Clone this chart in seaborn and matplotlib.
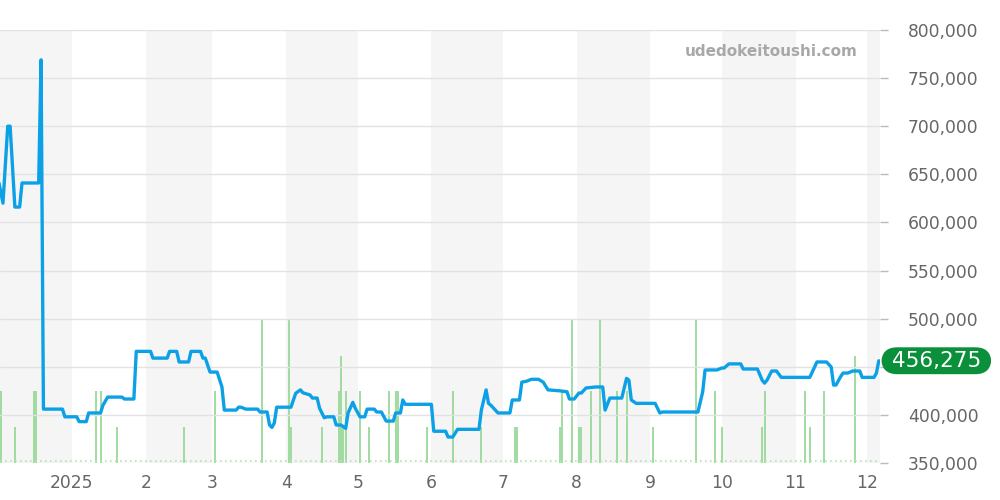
import matplotlib
matplotlib.use("Agg")
import matplotlib.pyplot as plt
import seaborn as sns
import pandas as pd
import numpy as np

# ---- data ----
price_dates = [
    "2024-12-01", "2024-12-03", "2024-12-05", "2024-12-06", "2024-12-08", "2024-12-10",
    "2024-12-11", "2024-12-18", "2024-12-19", "2024-12-20", "2024-12-28", "2024-12-29",
    "2025-01-03", "2025-01-04", "2025-01-07", "2025-01-08", "2025-01-13", "2025-01-14",
    "2025-01-16", "2025-01-22", "2025-01-23", "2025-01-27", "2025-01-28", "2025-02-03",
    "2025-02-04", "2025-02-10", "2025-02-11", "2025-02-14", "2025-02-15", "2025-02-19",
    "2025-02-20", "2025-02-24", "2025-02-25", "2025-02-26", "2025-02-28", "2025-03-03",
    "2025-03-05", "2025-03-06", "2025-03-11", "2025-03-12", "2025-03-13", "2025-03-15",
    "2025-03-20", "2025-03-21", "2025-03-24", "2025-03-25", "2025-03-26", "2025-03-27",
    "2025-03-28", "2025-04-03", "2025-04-05", "2025-04-07", "2025-04-08", "2025-04-11",
    "2025-04-12", "2025-04-14", "2025-04-15", "2025-04-17", "2025-04-18", "2025-04-21",
    "2025-04-22", "2025-04-24", "2025-04-26", "2025-04-27", "2025-04-29", "2025-04-30",
    "2025-05-02", "2025-05-04", "2025-05-05", "2025-05-08", "2025-05-09", "2025-05-11",
    "2025-05-13", "2025-05-16", "2025-05-17", "2025-05-19", "2025-05-20", "2025-05-21",
    "2025-06-01", "2025-06-02", "2025-06-07", "2025-06-08", "2025-06-10", "2025-06-12",
    "2025-06-21", "2025-06-22", "2025-06-24", "2025-06-25", "2025-06-26", "2025-06-29",
    "2025-07-04", "2025-07-05", "2025-07-08", "2025-07-09", "2025-07-11", "2025-07-13",
    "2025-07-16", "2025-07-18", "2025-07-20", "2025-07-25", "2025-07-28", "2025-07-29",
    "2025-07-31", "2025-08-02", "2025-08-03", "2025-08-05", "2025-08-09", "2025-08-12",
    "2025-08-13", "2025-08-15", "2025-08-20", "2025-08-22", "2025-08-23", "2025-08-24",
    "2025-08-26", "2025-09-03", "2025-09-05", "2025-09-06", "2025-09-21", "2025-09-23",
    "2025-09-24", "2025-09-29", "2025-10-01", "2025-10-02", "2025-10-04", "2025-10-09",
    "2025-10-10", "2025-10-16", "2025-10-18", "2025-10-19", "2025-10-20", "2025-10-22",
    "2025-10-24", "2025-10-26", "2025-11-07", "2025-11-09", "2025-11-10", "2025-11-14",
    "2025-11-16", "2025-11-17", "2025-11-18", "2025-11-20", "2025-11-21", "2025-11-23",
    "2025-11-25", "2025-11-28", "2025-11-29", "2025-12-04", "2025-12-05", "2025-12-06",
]
price_values = [
    645000, 620000, 700000, 700000, 616000, 616000,
    641000, 641000, 769000, 406000, 406000, 398000,
    398000, 393000, 393000, 402000, 402000, 410000,
    418500, 418500, 416500, 416500, 466000, 466000,
    459000, 459000, 466000, 466000, 455000, 455000,
    466000, 466000, 459000, 459000, 444500, 444500,
    429000, 405000, 405000, 408000, 408000, 406000,
    406000, 403000, 403000, 389500, 387000, 391500,
    408000, 408000, 422500, 426000, 423000, 420700,
    417500, 417500, 407000, 397000, 398000, 398000,
    389500, 389500, 386000, 402000, 413000, 407000,
    398000, 398000, 406000, 406000, 403000, 403000,
    393600, 393600, 402000, 402000, 415500, 411000,
    411000, 383000, 383000, 377000, 377000, 385000,
    385000, 405000, 426000, 412000, 410000, 402000,
    402000, 415500, 415500, 434000, 435000, 437000,
    437000, 434000, 426000, 425000, 424000, 416500,
    416500, 422700, 422700, 428000, 429000, 429000,
    405000, 417500, 417500, 438000, 436000, 415500,
    412000, 412000, 402000, 403000, 403000, 424000,
    446700, 446700, 448700, 448700, 453000, 453000,
    447700, 447700, 436000, 433000, 436000, 445600,
    445600, 439000, 439000, 449800, 455000, 455000,
    449800, 431000, 431000, 440000, 443500, 443500,
    445600, 445600, 439000, 439000, 443500, 456275,
]

volume_dates = [
    "2024-12-02", "2024-12-08", "2024-12-16", "2024-12-17", "2025-01-11", "2025-01-13",
    "2025-01-20", "2025-02-17", "2025-03-02", "2025-03-22", "2025-04-02", "2025-04-03",
    "2025-04-16", "2025-04-23", "2025-04-24", "2025-04-25", "2025-04-26", "2025-05-02",
    "2025-05-06", "2025-05-14", "2025-05-17", "2025-05-18", "2025-05-30", "2025-06-10",
    "2025-06-22", "2025-07-06", "2025-07-07", "2025-07-25", "2025-07-26", "2025-07-30",
    "2025-08-02", "2025-08-03", "2025-08-07", "2025-08-11", "2025-08-18", "2025-08-22",
    "2025-09-02", "2025-09-20", "2025-09-28", "2025-10-01", "2025-10-18", "2025-10-19",
    "2025-11-05", "2025-11-07", "2025-11-13", "2025-11-26",
]
volume_counts = [
    2, 1, 2, 2, 2, 2,
    1, 1, 2, 4, 4, 1,
    1, 2, 3, 1, 2, 2,
    1, 2, 2, 2, 1, 2,
    1, 1, 1, 1, 2, 4,
    1, 1, 2, 4, 2, 2,
    1, 4, 2, 1, 1, 2,
    2, 1, 2, 3,
]

tick_labels = ["2025", "2", "3", "4", "5", "6", "7", "8", "9", "10", "11", "12"]
y_ticks = [350000, 400000, 450000, 500000, 550000, 600000, 650000, 700000, 750000, 800000]
y_tick_labels = ["350,000", "400,000", "", "500,000", "550,000", "600,000",
                 "650,000", "700,000", "750,000", "800,000"]
last_price = 456275
watermark = "udedokeitoushi.com"

# ---- figure ----
sns.set_style("white")
plt.rcParams["font.family"] = ["DejaVu Sans"]

price_df = pd.DataFrame({"date": pd.to_datetime(price_dates), "price": price_values})
vol_df = pd.DataFrame({"date": pd.to_datetime(volume_dates), "count": volume_counts})

fig = plt.figure(figsize=(10, 5), dpi=100)
ax_vol = fig.add_axes([0.0, 0.074, 0.88, 0.866])
ax = ax_vol.twinx()
ax.set_zorder(ax_vol.get_zorder() + 1)
ax.patch.set_visible(False)

x_left = pd.Timestamp("2024-12-01 18:00")
x_right = pd.Timestamp("2025-12-06 12:00")

# alternating month shading
shade_starts = ["2024-12-01", "2025-02-01", "2025-04-01", "2025-06-01",
                "2025-08-01", "2025-10-01", "2025-12-01"]
for s in shade_starts:
    st = pd.Timestamp(s)
    en = st + pd.offsets.MonthBegin(1)
    ax_vol.axvspan(st, en, color="#f5f5f5", lw=0, zorder=0)

# volume bars
ax_vol.vlines(vol_df["date"], 0, vol_df["count"], color="#9ad99a", lw=1.3, zorder=2)
ax_vol.axhline(0.05, color="#b5e3b5", lw=1.2, ls=(0, (1, 2)), zorder=2)
ax_vol.set_ylim(0, 12.1)
ax_vol.set_yticks([])
ax_vol.set_ylabel("")

# price line
sns.lineplot(data=price_df, x="date", y="price", ax=ax, color="#0ca1e6",
             linewidth=2.4, zorder=5)
ax.set_ylim(350000, 800000)
ax.set_xlim(x_left, x_right)
ax.set_yticks(y_ticks)
ax.set_yticklabels(y_tick_labels)
ax.yaxis.grid(True, color="#e2e2e2", lw=1)
ax.xaxis.grid(False)
ax.set_xlabel("")
ax.set_ylabel("")

months = pd.date_range("2025-01-01", "2025-12-01", freq="MS")
ax_vol.set_xticks(months)
ax_vol.set_xticklabels(tick_labels)
ax_vol.set_xlim(x_left, x_right)

ax_vol.tick_params(axis="x", colors="#999999", labelcolor="#666666", labelsize=12.3,
                   length=4, width=1, pad=4)
ax.tick_params(axis="y", colors="#bbbbbb", labelcolor="#666666", labelsize=12.3,
               length=6, width=1, pad=14, right=True)
ax.tick_params(axis="x", bottom=False, labelbottom=False)

for a in (ax, ax_vol):
    for sp in a.spines.values():
        sp.set_visible(False)

# last price label
ax.text(1.064, last_price, " " + f"{last_price:,}" + " ",
        transform=ax.get_yaxis_transform(), ha="center", va="center",
        color="white", fontsize=15.5, zorder=10, clip_on=False,
        bbox=dict(boxstyle="round,pad=0.16,rounding_size=0.74",
                  fc="#0a8f3a", ec="none"))

# watermark
ax.text(0.975, 0.95, watermark, transform=ax.transAxes, ha="right", va="center",
        color="#a8a8a8", fontsize=11, fontweight="bold", zorder=10)

fig.savefig("out.png", dpi=100)
